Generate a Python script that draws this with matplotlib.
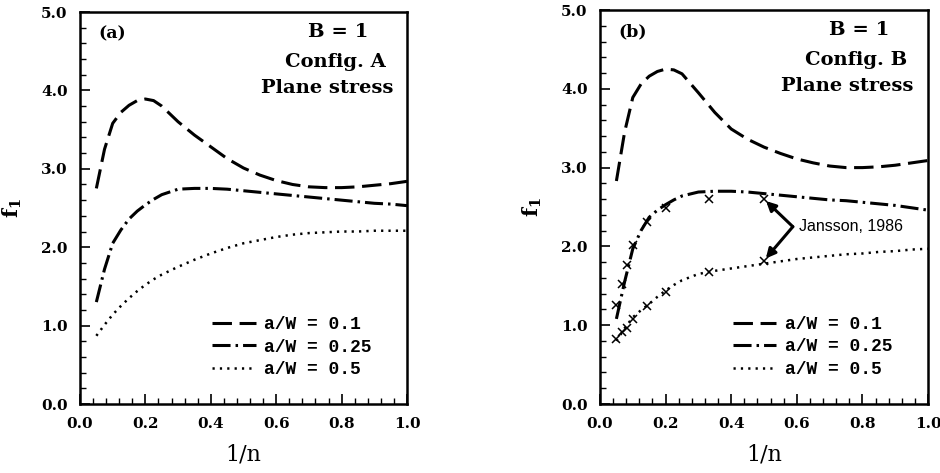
import matplotlib
matplotlib.use("Agg")
import matplotlib.pyplot as plt
from matplotlib.ticker import MultipleLocator, FormatStrFormatter

plt.rcParams['lines.scale_dashes'] = False
plt.rcParams['mathtext.fontset'] = 'dejavuserif'

# ---------------- data ----------------
# panel (a): Config. A
xa = [0.05, 0.075, 0.1, 0.125, 0.15, 0.175, 0.2, 0.225, 0.25, 0.3, 0.35, 0.4, 0.45, 0.5,
      0.55, 0.6, 0.65, 0.7, 0.75, 0.8, 0.85, 0.9, 0.95, 1.0]
a_w010 = [2.75, 3.25, 3.58, 3.72, 3.81, 3.87, 3.89, 3.87, 3.80, 3.60, 3.43, 3.28, 3.13, 3.01,
          2.92, 2.85, 2.80, 2.77, 2.76, 2.76, 2.77, 2.79, 2.81, 2.84]
a_w025 = [1.30, 1.72, 2.05, 2.22, 2.36, 2.46, 2.54, 2.61, 2.67, 2.74, 2.75, 2.75, 2.74, 2.72,
          2.70, 2.68, 2.66, 2.64, 2.62, 2.60, 2.58, 2.56, 2.55, 2.53]
a_w050 = [0.87, 1.01, 1.14, 1.25, 1.35, 1.44, 1.52, 1.59, 1.65, 1.75, 1.84, 1.92, 1.99, 2.05,
          2.09, 2.13, 2.16, 2.18, 2.19, 2.20, 2.20, 2.21, 2.21, 2.21]

# panel (b): Config. B
xb = [0.05, 0.075, 0.1, 0.125, 0.15, 0.175, 0.2, 0.225, 0.25, 0.3, 0.35, 0.4, 0.45, 0.5,
      0.55, 0.6, 0.65, 0.7, 0.75, 0.8, 0.85, 0.9, 0.95, 1.0]
b_w010 = [2.83, 3.45, 3.89, 4.06, 4.16, 4.22, 4.25, 4.24, 4.19, 3.95, 3.70, 3.49, 3.36, 3.26,
          3.18, 3.11, 3.06, 3.02, 3.00, 3.00, 3.01, 3.03, 3.06, 3.09]
b_w025 = [1.08, 1.55, 1.97, 2.20, 2.37, 2.46, 2.53, 2.59, 2.64, 2.69, 2.70, 2.70, 2.69, 2.67,
          2.65, 2.63, 2.61, 2.59, 2.58, 2.56, 2.54, 2.52, 2.49, 2.46]
b_w050 = [0.80, 0.96, 1.10, 1.19, 1.27, 1.36, 1.44, 1.51, 1.57, 1.65, 1.69, 1.72, 1.75, 1.78,
          1.81, 1.84, 1.86, 1.88, 1.90, 1.91, 1.93, 1.94, 1.96, 1.97]

# Jansson, 1986 data points (x markers)
jx = [1/20, 1/15, 1/12, 1/10, 1/7, 1/5, 1/3, 1/2]
j_w025 = [1.26, 1.52, 1.76, 2.02, 2.31, 2.49, 2.60, 2.60]
j_w050 = [0.82, 0.91, 0.97, 1.08, 1.25, 1.42, 1.67, 1.82]

legend_labels = ['a/W = 0.1', 'a/W = 0.25', 'a/W = 0.5']
panel_tags = ['(a)', '(b)']
panel_texts = [['B = 1', 'Config. A', 'Plane stress'], ['B = 1', 'Config. B', 'Plane stress']]

# ---------------- styles ----------------
ls_dash = (0, (14, 5.5))
ls_dashdot = (0, (13, 3.6, 1.8, 3.6))
ls_dot = (0, (1.6, 3.7))
serif = 'DejaVu Serif'

fig = plt.figure(figsize=(9.4, 4.73), dpi=100)
ax_a = fig.add_axes([80/940, 1-404/473, 327/940, 392/473])
ax_b = fig.add_axes([600/940, 1-404/473, 328/940, 394/473])

def style_axes(ax):
    ax.set_xlim(0, 1.0)
    ax.set_ylim(0, 5.0)
    ax.xaxis.set_major_locator(MultipleLocator(0.2))
    ax.xaxis.set_minor_locator(MultipleLocator(0.04))
    ax.yaxis.set_major_locator(MultipleLocator(1.0))
    ax.yaxis.set_minor_locator(MultipleLocator(0.2))
    ax.xaxis.set_major_formatter(FormatStrFormatter('%.1f'))
    ax.yaxis.set_major_formatter(FormatStrFormatter('%.1f'))
    ax.tick_params(which='major', direction='in', length=7, width=1.2,
                   top=False, right=False, pad=9)
    ax.tick_params(which='minor', direction='in', length=4, width=1.0,
                   top=False, right=False)
    for lab in ax.get_xticklabels() + ax.get_yticklabels():
        lab.set_fontfamily(serif)
        lab.set_fontweight('bold')
        lab.set_fontsize(11)
    for sp in ax.spines.values():
        sp.set_linewidth(1.8)
    ax.set_xlabel('1/n', fontfamily=serif, fontsize=16, labelpad=9)
    ax.set_ylabel(r'$\mathbf{f}_{\mathbf{1}}$', fontsize=15)
    ax.yaxis.set_label_coords(-0.17, 0.50)

for ax, x, ys, tag, texts in [(ax_a, xa, (a_w010, a_w025, a_w050), panel_tags[0], panel_texts[0]),
                              (ax_b, xb, (b_w010, b_w025, b_w050), panel_tags[1], panel_texts[1])]:
    ax.plot(x, ys[0], color='black', lw=2.2, linestyle=ls_dash, label=legend_labels[0])
    ax.plot(x, ys[1], color='black', lw=2.2, linestyle=ls_dashdot, label=legend_labels[1])
    ax.plot(x, ys[2], color='black', lw=1.8, linestyle=ls_dot, label=legend_labels[2])
    style_axes(ax)
    ax.text(0.055, 4.72, tag, fontfamily=serif, fontsize=12.5, fontweight='bold',
            ha='left', va='center')
    ax.text(0.79, 4.74, texts[0], fontfamily=serif, fontsize=14, fontweight='bold',
            ha='center', va='center')
    ax.text(0.78, 4.36, texts[1], fontfamily=serif, fontsize=14, fontweight='bold',
            ha='center', va='center')
    ax.text(0.755, 4.03, texts[2], fontfamily=serif, fontsize=14, fontweight='bold',
            ha='center', va='center')
    leg = ax.legend(loc='lower right', bbox_to_anchor=(0.94, 0.025), frameon=False,
                    handlelength=2.4, handletextpad=0.45, labelspacing=0.3,
                    prop={'family': 'Liberation Mono', 'weight': 'bold', 'size': 13})

# Jansson data points on panel (b)
ax_b.plot(jx, j_w025, linestyle='none', marker='x', color='black', markersize=6, mew=1.1)
ax_b.plot(jx, j_w050, linestyle='none', marker='x', color='black', markersize=6, mew=1.1)

ax_b.text(0.607, 2.25, 'Jansson, 1986', fontfamily='Liberation Sans', fontsize=11.5,
          ha='left', va='center')
arrow_kw = dict(arrowstyle='-|>', color='black', lw=2.2, mutation_scale=14,
                shrinkA=0, shrinkB=2)
ax_b.annotate('', xy=(jx[-1], j_w025[-1]), xytext=(0.588, 2.25), arrowprops=arrow_kw)
ax_b.annotate('', xy=(jx[-1], j_w050[-1]), xytext=(0.588, 2.25), arrowprops=arrow_kw)

fig.savefig('out.png', dpi=100)
